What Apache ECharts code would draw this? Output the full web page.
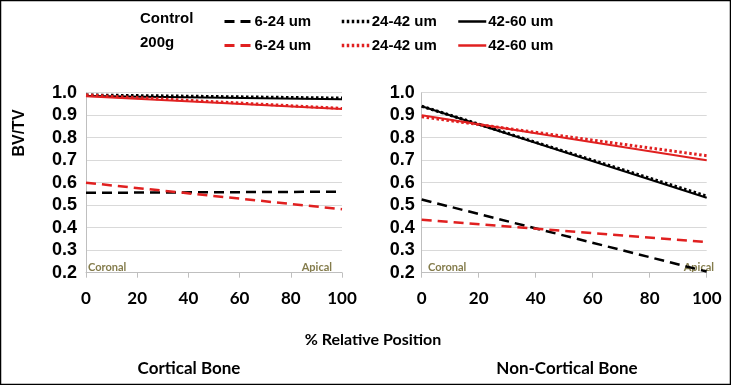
<!DOCTYPE html>
<html><head><meta charset="utf-8">
<script src="https://cdn.jsdelivr.net/npm/echarts@6/dist/echarts.min.js"></script>
<style>html,body{margin:0;padding:0;background:#fff}#c{width:731px;height:385px}</style>
</head><body><div id="c"></div>
<script>
// Data (trend lines, value at 0% and 100% relative position)
const positions = [0, 100];
const xTicks = [0, 20, 40, 60, 80, 100];
const seriesNames = ['Control 6-24 um', 'Control 24-42 um', 'Control 42-60 um', '200g 6-24 um', '200g 24-42 um', '200g 42-60 um'];
// Cortical bone
const corticalControl_6_24 = [0.555, 0.56];
const corticalControl_24_42 = [0.99, 0.976];
const corticalControl_42_60 = [0.985, 0.971];
const cortical200g_6_24 = [0.60, 0.482];
const cortical200g_24_42 = [0.99, 0.930];
const cortical200g_42_60 = [0.984, 0.928];
// Non-cortical bone
const nonCorticalControl_6_24 = [0.525, 0.205];
const nonCorticalControl_24_42 = [0.94, 0.540];
const nonCorticalControl_42_60 = [0.94, 0.533];
const nonCortical200g_6_24 = [0.435, 0.336];
const nonCortical200g_24_42 = [0.893, 0.72];
const nonCortical200g_42_60 = [0.90, 0.70];

const corticalData = [corticalControl_6_24, corticalControl_24_42, corticalControl_42_60, cortical200g_6_24, cortical200g_24_42, cortical200g_42_60];
const nonCorticalData = [nonCorticalControl_6_24, nonCorticalControl_24_42, nonCorticalControl_42_60, nonCortical200g_6_24, nonCortical200g_24_42, nonCortical200g_42_60];

const colors = ['#000000', '#000000', '#000000', '#e02020', '#e02020', '#e02020'];
const types = [[10, 6], [2.5, 2.5], 'solid', [10, 6], [2.5, 2.5], 'solid'];
const widths = [2.5, 3, 2, 2.5, 3, 2];

function pairs(vals){ return positions.map((p,i)=>[p, vals[i]]); }

const series = [];
[corticalData, nonCorticalData].forEach((set, gi) => {
  set.forEach((vals, i) => {
    series.push({
      name: seriesNames[i], type: 'line', xAxisIndex: gi, yAxisIndex: gi,
      data: pairs(vals), symbol: 'none', silent: true, animation: false,
      z: i >= 3 ? 3 : 2,
      lineStyle: { color: colors[i], type: types[i], width: widths[i] },
      itemStyle: { color: colors[i] }
    });
  });
});

const legendX = [218, 335, 452];
const legends = seriesNames.map((n, i) => ({
  data: [n], left: legendX[i % 3], top: i < 3 ? 9 : 33,
  itemWidth: 28, itemHeight: 12, itemGap: 0,
  selectedMode: false,
  formatter: name => name.split(' ').slice(1).join(' '),
  lineStyle: { color: colors[i], type: types[i], width: widths[i] + 0.5 },
  itemStyle: { color: 'transparent', borderWidth: 0, borderColor: 'transparent' },
  textStyle: { fontFamily: 'Liberation Sans', fontWeight: 'bold', fontSize: 15, color: '#000', padding: [0,0,0,-3] }
}));

const grids = [
  { left: 86, width: 256, top: 92.7, height: 180 },
  { left: 421.7, width: 285, top: 92.7, height: 180 }
];

const xAxes = grids.map((g, i) => ({
  gridIndex: i, type: 'value', min: 0, max: 100, interval: 20,
  axisLine: { lineStyle: { color: '#bfbfbf', width: 1 } },
  axisTick: { show: true, length: 5, lineStyle: { color: '#bfbfbf' } },
  splitLine: { show: false },
  axisLabel: { margin: 17, fontFamily: 'Lato', fontWeight: 'bold', fontSize: 17, color: '#000' }
}));
const yAxes = grids.map((g, i) => ({
  gridIndex: i, type: 'value', min: 0.2, max: 1.0, interval: 0.1,
  axisLine: { show: true, lineStyle: { color: '#bfbfbf', width: 1 } },
  axisTick: { show: false },
  splitLine: { show: true, lineStyle: { color: '#d9d9d9', width: 1 } },
  axisLabel: { margin: i === 0 ? 9 : 7, fontFamily: 'Liberation Sans', fontWeight: 'bold', fontSize: 18, color: '#000',
    formatter: v => v.toFixed(1) }
}));

const olive = '#847c4c';
const graphic = [
  { type: 'rect', shape: { x: 0.5, y: 0.5, width: 730, height: 384 }, style: { fill: 'none', stroke: '#000', lineWidth: 1.5 }, silent: true },
  { type: 'text', left: 140, top: 11, style: { text: 'Control', font: 'bold 15px "Liberation Sans"', fill: '#000' } },
  { type: 'text', left: 140, top: 35, style: { text: '200g', font: 'bold 15px "Liberation Sans"', fill: '#000' } },
  { type: 'text', x: 20, y: 133, rotation: Math.PI / 2, style: { text: 'BV/TV', font: 'bold 16px "Liberation Sans"', fill: '#000', align: 'center', verticalAlign: 'middle' } },
  { type: 'text', x: 88, y: 267, style: { text: 'Coronal', font: 'bold 11px Lato', fill: olive, verticalAlign: 'middle' } },
  { type: 'text', x: 332, y: 267, style: { text: 'Apical', font: 'bold 11px Lato', fill: olive, align: 'right', verticalAlign: 'middle' } },
  { type: 'text', x: 428, y: 267, style: { text: 'Coronal', font: 'bold 11px Lato', fill: olive, verticalAlign: 'middle' } },
  { type: 'text', x: 714, y: 267, style: { text: 'Apical', font: 'bold 11px Lato', fill: olive, align: 'right', verticalAlign: 'middle' } },
  { type: 'text', x: 373, y: 340, style: { text: '% Relative Position', font: 'bold 16px Lato', fill: '#000', align: 'center', verticalAlign: 'middle' } },
  { type: 'text', x: 189, y: 369, style: { text: 'Cortical Bone', font: 'bold 17px Lato', fill: '#000', align: 'center', verticalAlign: 'middle' } },
  { type: 'text', x: 567, y: 369, style: { text: 'Non-Cortical Bone', font: 'bold 17px Lato', fill: '#000', align: 'center', verticalAlign: 'middle' } }
];

const chart = echarts.init(document.getElementById('c'), null, { renderer: 'canvas' });
chart.setOption({
  animation: false,
  backgroundColor: '#fff',
  grid: grids, xAxis: xAxes, yAxis: yAxes,
  legend: legends, series: series, graphic: graphic
});
</script></body></html>
